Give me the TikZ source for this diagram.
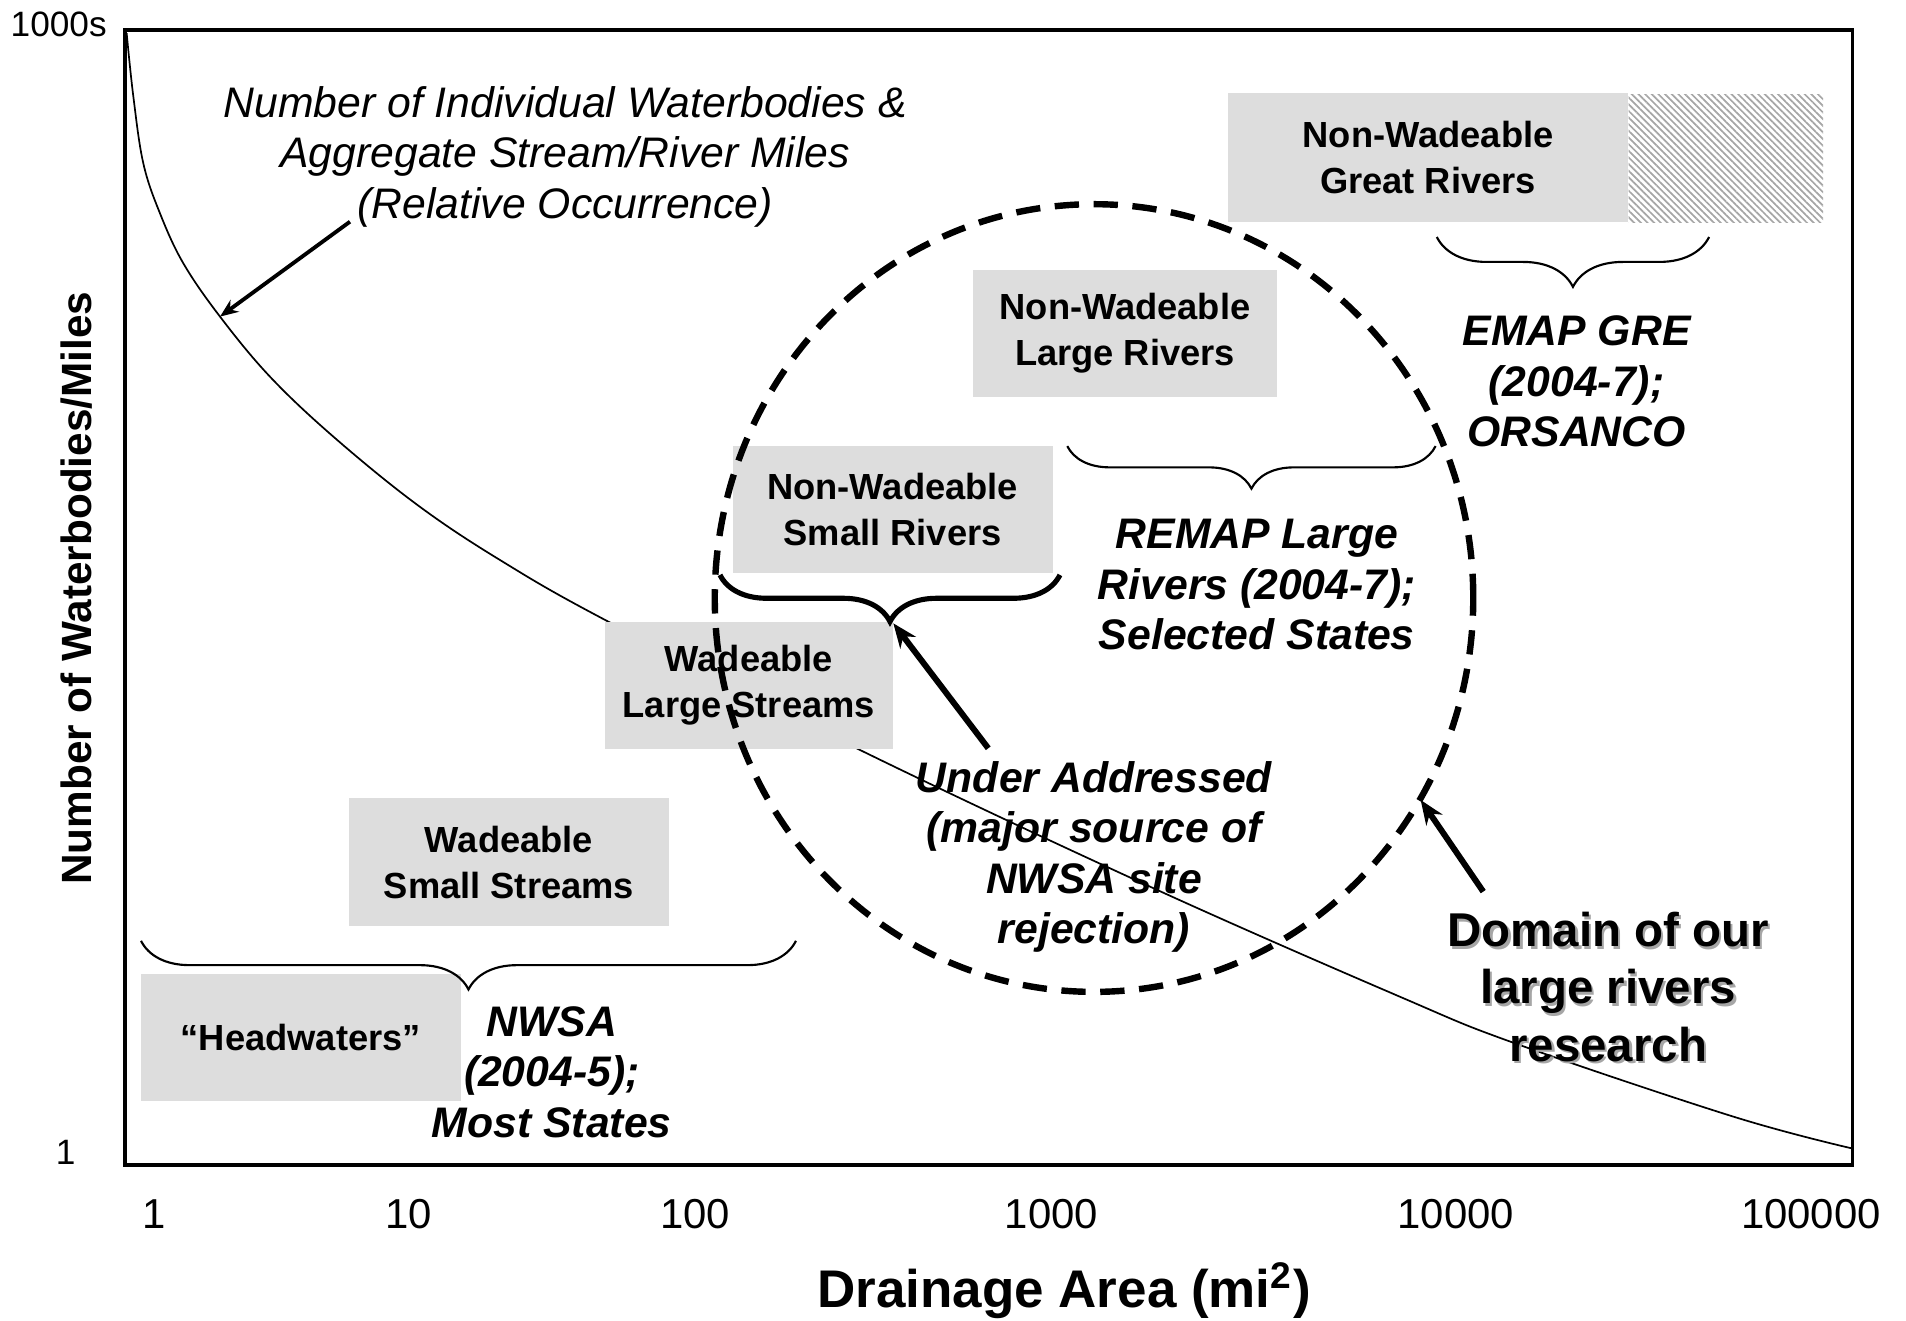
\documentclass[tikz,border=0pt]{standalone}
\usepackage{fontspec}
\setmainfont{Liberation Sans}
\usetikzlibrary{arrows.meta,decorations.pathreplacing,patterns.meta}
\definecolor{boxgray}{HTML}{DDDDDD}

\begin{document}
\begin{tikzpicture}[>={Stealth[length=2mm,width=1.6mm]},
  box/.style={fill=boxgray, inner sep=0pt, align=center, font=\fontsize{8.5}{10.75}\selectfont\bfseries},
  study/.style={align=center, font=\fontsize{10}{11.8}\selectfont\bfseries\itshape},
  axisnum/.style={font=\fontsize{9.8}{12}\selectfont},
  curly/.style={decorate, decoration={brace, mirror, amplitude=#1}}]
\useasboundingbox (0,0) rectangle (15.68,10.86);
\draw[line width=0.8pt] (1.028,1.276) rectangle (15.241,10.613);
\draw[line width=0.4pt] plot[smooth, tension=0.6] coordinates {(1.042,10.586) (1.097,10.065) (1.179,9.516) (1.316,9.105) (1.508,8.694) (1.81,8.255) (2.221,7.761) (2.742,7.268) (3.428,6.71) (4.113,6.253) (5.004,5.746) (7.075,4.69) (9.46,3.566) (11.517,2.66) (12.463,2.277) (14.259,1.674) (15.233,1.413)};

\node[box, minimum width=2.63cm, minimum height=1.05cm] (hw) at (2.475,2.325) {“Headwaters”};
\node[box, minimum width=2.634cm, minimum height=1.047cm] (wss) at (4.187,3.768) {Wadeable\\Small Streams};
\node[box, minimum width=2.366cm, minimum height=1.05cm] (wls) at (6.16,5.221) {Wadeable\\Large Streams};
\node[box, minimum width=2.633cm, minimum height=1.047cm] (nwsr) at (7.344,6.666) {Non-Wadeable\\Small Rivers};
\node[box, minimum width=2.497cm, minimum height=1.049cm] (nwlr) at (9.255,8.115) {Non-Wadeable\\Large Rivers};
\node[box, minimum width=3.284cm, minimum height=1.056cm] (nwgr) at (11.748,9.564) {Non-Wadeable\\Great Rivers};
\fill[pattern={Lines[angle=-45,distance=1.1pt,line width=0.4pt]}, pattern color=black!35] (nwgr.south east) rectangle ++(1.6,1.056);

\draw[curly=0.4cm, line width=0.5pt] (1.16,3.12) -- (6.548,3.12);
\draw[curly=0.384cm, line width=1.2pt] (5.923,6.13) -- (8.72,6.13);
\draw[curly=0.35cm, line width=0.5pt] (8.78,7.19) -- (11.81,7.19);
\draw[curly=0.41cm, line width=0.5pt] (11.82,8.91) -- (14.06,8.91);

\draw[line width=1.5pt, dash pattern=on 2mm off 1.2mm] (9,5.94) ellipse [x radius=3.12, y radius=3.24];

\node[font=\fontsize{10}{11.9}\selectfont\itshape, align=center] (occur) at (4.65,9.57) {Number of Individual Waterbodies \&\\Aggregate Stream/River Miles\\(Relative Occurrence)};
\node[study] (nwsa) at (4.54,2.04) {NWSA\\(2004-5);\\Most States};
\node[study] (remap) at (10.34,6.05) {REMAP Large\\Rivers (2004-7);\\Selected States};
\node[study] (emap) at (12.97,7.72) {EMAP GRE\\(2004-7);\\ORSANCO};
\node[study] (under) at (9.00,3.81) {Under Addressed\\(major source of\\NWSA site\\rejection)};
\node[align=center, font=\fontsize{11.1}{13.4}\selectfont\bfseries, text=black!35, xshift=0.2mm, yshift=-0.2mm] (domainshadow) at (13.23,2.74) {Domain of our\\large rivers\\research};
\node[align=center, font=\fontsize{11.1}{13.4}\selectfont\bfseries] (domain) at (13.23,2.74) {Domain of our\\large rivers\\research};

\coordinate (occurfoot) at (2.879,9.036);
\coordinate (curvehit) at (1.81,8.255);
\coordinate (underfoot) at (8.13,4.704);
\coordinate (bracetip) at (7.349,5.732);
\coordinate (domainfoot) at (12.202,3.525);
\coordinate (circlehit) at (11.687,4.279);
\draw[->, line width=0.9pt, >={Stealth[length=1.5mm,width=1.2mm]}] (occurfoot) -- (curvehit);
\draw[->, line width=1.4pt] (underfoot) -- (bracetip);
\draw[->, line width=1.4pt] (domainfoot) -- (circlehit);

\node[font=\fontsize{8.25}{10}\selectfont, anchor=east, inner sep=0pt] (ytop) at (0.885,10.66) {1000s};
\node[font=\fontsize{8.25}{10}\selectfont] (ybot) at (0.54,1.38) {1};
\foreach \x/\lab in {1.27/1, 3.36/10, 5.72/100, 8.65/1000, 11.977/10000, 14.897/100000}
  \node[axisnum] (xt\lab) at (\x,0.875) {\lab};
\node[rotate=90, font=\fontsize{9.9}{12}\selectfont\bfseries] (ylab) at (0.63,6.02) {Number of Waterbodies/Miles};
\node[font=\fontsize{12.4}{14}\selectfont\bfseries] (xlab) at (8.755,0.24) {Drainage Area (mi\textsuperscript{2})};
\end{tikzpicture}
\end{document}
